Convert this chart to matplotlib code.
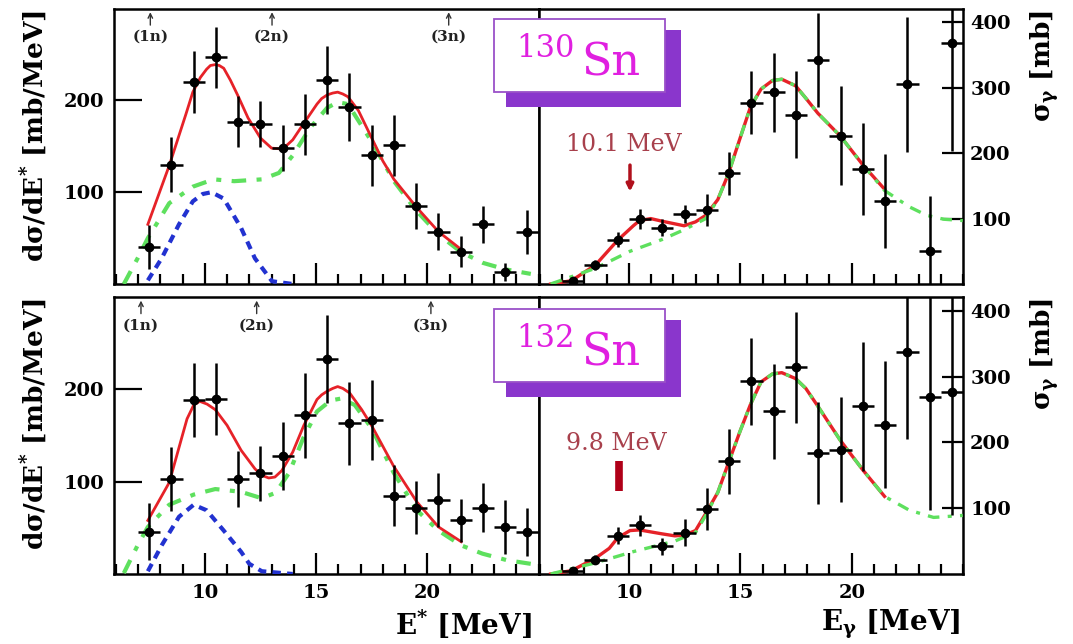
"""
Coulomb excitation spectra of 130Sn and 132Sn: dsigma/dE* and photoabsorption sigma_gamma.
"""

import matplotlib
matplotlib.use('Agg')
import matplotlib.pyplot as plt
from matplotlib.patches import Rectangle
from matplotlib.ticker import MultipleLocator

plt.rcParams['font.family'] = 'DejaVu Serif'
plt.rcParams['font.weight'] = 'bold'
plt.rcParams['mathtext.fontset'] = 'dejavuserif'

W, H = 1073, 644

# ---------------- data ----------------
# bin centres (MeV), same binning in every panel
e_bins = [7.5, 8.5, 9.5, 10.5, 11.5, 12.5, 13.5, 14.5, 15.5, 16.5,
          17.5, 18.5, 19.5, 20.5, 21.5, 22.5, 23.5, 24.5]

# 130Sn  dsigma/dE* [mb/MeV]
sn130_dsde = [40, 130, 220, 247, 177, 174, 148, 174, 222, 193,
              140, 151, 85, 57, 35, 65, 13, 57]
sn130_dsde_err = [24, 30, 34, 33, 28, 25, 25, 33, 37, 37,
                  33, 33, 25, 20, 17, 20, 10, 24]
# 130Sn  sigma_gamma [mb]
sn130_sig = [5, 29, 68, 99, 86, 107, 113, 169, 277, 293,
             259, 342, 227, 176, 127, 305, 50, 368]
sn130_sig_err = [5, 8, 11, 15, 13, 14, 24, 33, 48, 60,
                 66, 72, 75, 70, 72, 103, 84, 165]

# 132Sn  dsigma/dE* [mb/MeV]
sn132_dsde = [46, 103, 188, 190, 103, 109, 128, 172, 233, 163,
              167, 85, 72, 80, 58, 72, 51, 46]
sn132_dsde_err = [31, 35, 40, 39, 30, 30, 37, 46, 48, 45,
                  43, 33, 29, 29, 23, 27, 29, 26]
# 132Sn  sigma_gamma [mb]
sn132_sig = [5, 22, 58, 74, 42, 63, 99, 171, 293, 247,
             314, 184, 189, 255, 227, 337, 269, 276]
sn132_sig_err = [4, 7, 13, 16, 13, 21, 32, 50, 66, 72,
                 84, 78, 80, 98, 97, 132, 172, 187]

# fitted curves
tl_red_e = [7.44, 8.4, 9.15, 9.46, 9.8, 10.08, 10.25, 10.47, 10.65, 10.85, 11.15,
            11.47, 11.94, 12.5, 13.0, 13.5, 13.95, 14.42, 15.04, 15.25, 15.5, 15.75,
            15.97, 16.2, 16.43, 16.9, 17.5, 18.0, 18.5, 19.5, 20.5, 21.5]
tl_red_v = [65, 129, 185, 209, 225, 234, 238, 239, 238, 235, 222,
            206, 181, 159, 148, 147, 157, 174, 196, 202, 206, 208,
            209, 207, 204, 189, 159, 134, 114, 84, 57, 38]
tl_green_e = [6.36, 6.98, 7.44, 8.4, 9.46, 10.39, 11.32, 12.56, 13.33, 13.95, 14.73,
              15.5, 15.97, 16.43, 17.5, 18.5, 19.5, 20.5, 21.5, 22.5, 23.5, 24.65]
tl_green_v = [0, 28, 50, 88, 106, 114, 112, 114, 121, 140, 170,
              192, 198, 196, 155, 112, 80, 54, 35, 23, 16, 11]
tl_blue_e = [7.44, 8.06, 8.84, 9.46, 9.9, 10.3, 10.85, 11.63, 12.25, 13.02, 13.95]
tl_blue_v = [4, 28, 65, 90, 98, 100, 93, 61, 28, 3, 0]

tr_red_e = [6.49, 7.42, 8.5, 9.5, 10.2, 10.48, 10.98, 11.49, 12.48, 12.99, 13.45,
            13.99, 14.46, 15.0, 15.46, 15.93, 16.44, 16.86, 17.48, 17.94, 18.48,
            19.49, 20.5, 21.47]
tr_red_v = [0, 5, 29, 67, 89, 97, 100, 96, 89, 95, 105,
            129, 168, 224, 271, 298, 311, 313, 303, 284, 261,
            226, 182, 145]
tr_green_e = [6.49, 8.5, 10.05, 11.49, 12.48, 13.45, 13.99, 14.46, 15.0, 15.46,
              15.93, 16.44, 16.86, 17.48, 17.94, 18.48, 19.49, 20.5, 21.47, 22.58,
              23.36, 24.13, 24.98]
tr_green_v = [0, 24, 50, 68, 83, 100, 129, 168, 224, 271,
              298, 311, 313, 303, 284, 261, 226, 182, 143, 118,
              105, 99, 97]

bl_red_e = [7.44, 8.4, 8.99, 9.2, 9.5, 9.77, 10.1, 10.47, 11.0, 11.63, 12.25,
            12.55, 12.87, 13.15, 13.46, 13.95, 14.45, 15.04, 15.25, 15.5, 15.75,
            15.97, 16.2, 16.51, 17.05, 17.49, 18.48, 19.53, 20.5, 21.52]
bl_red_v = [58, 99, 150, 168, 183, 187, 184, 178, 161, 134, 114,
            107, 104, 105, 112, 132, 161, 189, 194, 198, 201,
            203, 201, 196, 178, 161, 117, 78, 51, 35]
bl_green_e = [6.36, 6.98, 7.44, 8.4, 9.5, 10.47, 11.63, 12.56, 13.18, 13.8, 14.42,
              15.04, 15.66, 16.12, 16.74, 17.49, 18.48, 19.53, 20.5, 21.52, 22.48,
              23.57, 24.65]
bl_green_v = [1, 31, 51, 75, 86, 92, 89, 82, 88, 110, 147,
              176, 188, 190, 183, 158, 110, 69, 47, 31, 22,
              15, 11]
bl_blue_e = [7.44, 8.06, 8.84, 9.5, 10.08, 10.85, 11.63, 12.0, 12.56, 13.95]
bl_blue_v = [3, 31, 62, 75, 69, 47, 24, 11, 3, 0]

br_red_e = [6.49, 7.42, 8.5, 9.12, 9.5, 10.05, 10.48, 10.98, 11.49, 12.06, 12.48,
            12.99, 13.45, 13.99, 14.46, 15.0, 15.46, 15.93, 16.44, 16.86, 17.48,
            17.94, 18.48, 19.49, 20.5, 21.47]
br_red_v = [0, 5, 24, 39, 55, 66, 67, 64, 61, 58, 59,
            66, 92, 124, 168, 218, 258, 292, 304, 306, 297,
            282, 255, 203, 158, 118]
br_green_e = [6.49, 8.5, 10.2, 12.06, 12.99, 13.45, 13.99, 14.46, 15.0, 15.46,
              15.93, 16.44, 16.86, 17.48, 17.94, 18.48, 19.49, 20.5, 21.47, 22.58,
              23.67, 24.98]
br_green_v = [0, 17, 34, 50, 63, 89, 124, 168, 218, 258,
              292, 304, 306, 297, 282, 255, 203, 158, 118, 97,
              86, 89]

# neutron thresholds (1n, 2n, 3n) in MeV
sn130_thr = [7.55, 13.02, 20.96]
sn132_thr = [7.13, 12.33, 20.16]
thr_labels = ['(1n)', '(2n)', '(3n)']

RED = '#e62228'
GREEN = '#5ee05e'
BLUE = '#2232d0'


def frac(x0, y0, x1, y1):
    return [x0 / W, 1 - y1 / H, (x1 - x0) / W, (y1 - y0) / H]


def style(ax, right):
    for sp in ax.spines.values():
        sp.set_linewidth(1.8)
    ax.set_xticks([10, 15, 20])
    ax.xaxis.set_minor_locator(MultipleLocator(1))
    ax.tick_params(axis='x', which='major', direction='in', length=15, width=1.6,
                   labelsize=14, pad=7)
    ax.tick_params(axis='x', which='minor', direction='in', length=7, width=1.6)
    if right:
        ax.set_xlim(5.95, 25.0)
        ax.set_ylim(0, 421)
        ax.yaxis.tick_right()
        ax.set_yticks([100, 200, 300, 400])
        ax.tick_params(axis='y', direction='in', length=15, width=1.6,
                       labelsize=14, pad=5)
    else:
        ax.set_xlim(5.9, 25.0)
        ax.set_ylim(0, 300)
        ax.set_yticks([100, 200])
        ax.tick_params(axis='y', direction='in', length=20, width=1.6,
                       labelsize=14, pad=7)


def data_points(ax, vals, errs):
    ax.errorbar(e_bins, vals, xerr=0.5, yerr=errs, fmt='o', color='k', ms=6,
                elinewidth=1.8, capsize=0, zorder=5)


def green_line(ax, e, v, lw=3):
    ax.plot(e, v, color=GREEN, lw=lw, dashes=[3.5, 2.5, 1.2, 2.5], zorder=4)


def thresholds(ax, energies):
    for e, lab in zip(energies, thr_labels):
        ax.annotate('', xy=(e, 0.997), xytext=(e, 0.93),
                    xycoords=('data', 'axes fraction'),
                    textcoords=('data', 'axes fraction'),
                    arrowprops=dict(arrowstyle='->', color='#333333', lw=1.0,
                                    mutation_scale=8))
        ax.text(e, 0.898, lab, transform=ax.get_xaxis_transform(), ha='center',
                va='center', fontsize=11, color='#222222')


def nucleus_box(fig, dy, mass):
    shadow = Rectangle((506 / W, 1 - (106.7 + dy) / H), 174.7 / W, 76.7 / H,
                       transform=fig.transFigure, facecolor='#8a36cc',
                       edgecolor='none', zorder=10)
    box = Rectangle((494 / W, 1 - (91.7 + dy) / H), 171 / W, 72.4 / H,
                    transform=fig.transFigure, facecolor='white',
                    edgecolor='#9a50c8', lw=1.3, zorder=11)
    fig.add_artist(shadow)
    fig.add_artist(box)
    fig.text(516.7 / W, 1 - (56.7 + dy) / H, mass, fontsize=22, color='#e020e0',
             weight='normal', ha='left', va='baseline', zorder=12)
    fig.text(581.7 / W, 1 - (75 + dy) / H, 'Sn', fontsize=32, color='#e020e0',
             weight='normal', ha='left', va='baseline', zorder=12)


fig = plt.figure(figsize=(W / 100, H / 100), dpi=100)
ax_tl = fig.add_axes(frac(113.6, 8.6, 538.6, 284))
ax_tr = fig.add_axes(frac(538.6, 8.6, 963.2, 284))
ax_bl = fig.add_axes(frac(113.6, 297, 538.6, 574))
ax_br = fig.add_axes(frac(538.6, 297, 963.2, 574))

for ax in (ax_tl, ax_bl):
    style(ax, False)
for ax in (ax_tr, ax_br):
    style(ax, True)
for ax in (ax_tl, ax_tr):
    ax.tick_params(axis='x', which='both', labelbottom=False)

# top left: 130Sn E*
ax_tl.plot(tl_blue_e, tl_blue_v, color=BLUE, lw=3, dashes=[2, 1.5], zorder=3)
green_line(ax_tl, tl_green_e, tl_green_v)
ax_tl.plot(tl_red_e, tl_red_v, color=RED, lw=2, zorder=4)
data_points(ax_tl, sn130_dsde, sn130_dsde_err)
thresholds(ax_tl, sn130_thr)

# top right: 130Sn E_gamma
ax_tr.plot(tr_red_e, tr_red_v, color=RED, lw=2.4, zorder=3)
green_line(ax_tr, tr_green_e, tr_green_v, lw=2.4)
data_points(ax_tr, sn130_sig, sn130_sig_err)
ax_tr.text(9.78, 214, '10.1 MeV', ha='center', va='center', fontsize=17,
           weight='normal', color='#a8404c')
ax_tr.annotate('', xy=(10.05, 137), xytext=(10.05, 186),
               arrowprops=dict(arrowstyle='-|>', color='#b0101c', lw=2.5,
                               mutation_scale=10))

# bottom left: 132Sn E*
ax_bl.plot(bl_blue_e, bl_blue_v, color=BLUE, lw=3, dashes=[2, 1.5], zorder=3)
green_line(ax_bl, bl_green_e, bl_green_v)
ax_bl.plot(bl_red_e, bl_red_v, color=RED, lw=2, zorder=4)
data_points(ax_bl, sn132_dsde, sn132_dsde_err)
thresholds(ax_bl, sn132_thr)

# bottom right: 132Sn E_gamma
ax_br.plot(br_red_e, br_red_v, color=RED, lw=2.4, zorder=3)
green_line(ax_br, br_green_e, br_green_v, lw=2.4)
data_points(ax_br, sn132_sig, sn132_sig_err)
ax_br.text(9.45, 198, '9.8 MeV', ha='center', va='center', fontsize=17,
           weight='normal', color='#a8404c')
ax_br.plot([9.57, 9.57], [126, 172], color='#b00018', lw=5.5,
           solid_capstyle='butt')

# axis titles
for dy in (0, 288):
    fig.text(34.5 / W, 1 - (10 + dy) / H, 'dσ/dE$^{*}$ [mb/MeV]',
             rotation=90, ha='center', va='top', fontsize=19)
    fig.text(1045 / W, 1 - (10 + dy) / H, r'σ$_{\mathrm{γ}}$ [mb]',
             rotation=90, ha='center', va='top', fontsize=19)
fig.text(532 / W, 1 - 641 / H, 'E$^{*}$ [MeV]', ha='right', va='bottom', fontsize=20)
fig.text(960 / W, 1 - 641 / H, r'E$_{\mathrm{γ}}$ [MeV]', ha='right', va='bottom', fontsize=20)

nucleus_box(fig, 0, '130')
nucleus_box(fig, 290, '132')

fig.savefig('out.png', dpi=100)
